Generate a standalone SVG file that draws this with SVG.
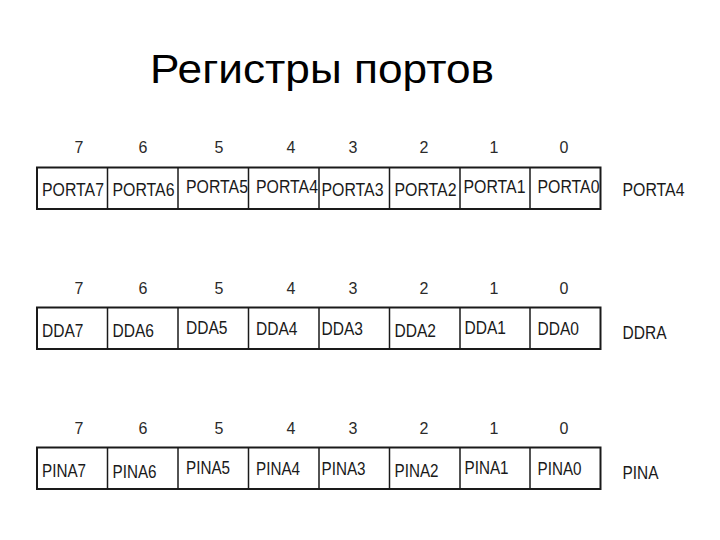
<svg xmlns="http://www.w3.org/2000/svg" width="720" height="540" viewBox="0 0 720 540">
<style>
.t{font-family:"Liberation Sans",Arial,sans-serif;fill:#1a1a1a}
.title{font-size:41px;fill:#000}
.bit{font-size:16px;text-anchor:middle;fill:#2a2a2a}
.cell{font-size:17.5px}
.box{fill:#fff;stroke:#1a1a1a;stroke-width:2}
.div{stroke:#1a1a1a;stroke-width:1.5}
</style>
<rect width="720" height="540" fill="#fff"/>
<text id="title" class="t title" x="150" y="83" textLength="344" lengthAdjust="spacingAndGlyphs">Регистры портов</text>

<g id="reg-porta">
  <g class="t bit">
    <text x="79" y="152.5">7</text><text x="143" y="152.5">6</text><text x="219" y="152.5">5</text><text x="291" y="152.5">4</text>
    <text x="353" y="152.5">3</text><text x="424" y="152.5">2</text><text x="494" y="152.5">1</text><text x="564" y="152.5">0</text>
  </g>
  <rect class="box" x="37" y="167.5" width="563.5" height="41.5"/>
  <g class="t cell">
    <text x="42" y="195.5" textLength="62" lengthAdjust="spacingAndGlyphs">PORTA7</text>
    <text x="112.5" y="195.5" textLength="62" lengthAdjust="spacingAndGlyphs">PORTA6</text>
    <text x="186" y="193" textLength="62" lengthAdjust="spacingAndGlyphs">PORTA5</text>
    <text x="256" y="193" textLength="62" lengthAdjust="spacingAndGlyphs">PORTA4</text>
    <text x="321.5" y="195.5" textLength="62" lengthAdjust="spacingAndGlyphs">PORTA3</text>
    <text x="394.5" y="195.5" textLength="62" lengthAdjust="spacingAndGlyphs">PORTA2</text>
    <text x="463.5" y="193" textLength="62" lengthAdjust="spacingAndGlyphs">PORTA1</text>
    <text x="537.5" y="193" textLength="62" lengthAdjust="spacingAndGlyphs">PORTA0</text>
    <text x="622.5" y="196" textLength="62" lengthAdjust="spacingAndGlyphs">PORTA4</text>
  </g>
  <g class="div">
    <line x1="107.5" y1="167.5" x2="107.5" y2="209"/><line x1="178" y1="167.5" x2="178" y2="209"/><line x1="248.5" y1="167.5" x2="248.5" y2="209"/>
    <line x1="319" y1="167.5" x2="319" y2="209"/><line x1="389.5" y1="167.5" x2="389.5" y2="209"/><line x1="460" y1="167.5" x2="460" y2="209"/><line x1="530" y1="167.5" x2="530" y2="209"/>
  </g>
</g>

<g id="reg-ddra">
  <g class="t bit">
    <text x="79" y="293.5">7</text><text x="143" y="293.5">6</text><text x="219" y="293.5">5</text><text x="291" y="293.5">4</text>
    <text x="353" y="293.5">3</text><text x="424" y="293.5">2</text><text x="494" y="293.5">1</text><text x="564" y="293.5">0</text>
  </g>
  <rect class="box" x="37" y="307.5" width="563.5" height="41.5"/>
  <g class="t cell">
    <text x="42" y="336.5" textLength="41.5" lengthAdjust="spacingAndGlyphs">DDA7</text>
    <text x="112.5" y="336.5" textLength="41.5" lengthAdjust="spacingAndGlyphs">DDA6</text>
    <text x="186" y="333.5" textLength="41.5" lengthAdjust="spacingAndGlyphs">DDA5</text>
    <text x="256" y="334.5" textLength="41.5" lengthAdjust="spacingAndGlyphs">DDA4</text>
    <text x="321.5" y="334.5" textLength="41.5" lengthAdjust="spacingAndGlyphs">DDA3</text>
    <text x="394.5" y="336.5" textLength="41.5" lengthAdjust="spacingAndGlyphs">DDA2</text>
    <text x="464.5" y="333.5" textLength="41.5" lengthAdjust="spacingAndGlyphs">DDA1</text>
    <text x="537.5" y="334.5" textLength="41.5" lengthAdjust="spacingAndGlyphs">DDA0</text>
    <text x="622.5" y="338.5" textLength="44" lengthAdjust="spacingAndGlyphs">DDRA</text>
  </g>
  <g class="div">
    <line x1="107.5" y1="307.5" x2="107.5" y2="349"/><line x1="178" y1="307.5" x2="178" y2="349"/><line x1="248.5" y1="307.5" x2="248.5" y2="349"/>
    <line x1="319" y1="307.5" x2="319" y2="349"/><line x1="389.5" y1="307.5" x2="389.5" y2="349"/><line x1="460" y1="307.5" x2="460" y2="349"/><line x1="530" y1="307.5" x2="530" y2="349"/>
  </g>
</g>

<g id="reg-pina">
  <g class="t bit">
    <text x="79" y="433.5">7</text><text x="143" y="433.5">6</text><text x="219" y="433.5">5</text><text x="291" y="433.5">4</text>
    <text x="353" y="433.5">3</text><text x="424" y="433.5">2</text><text x="494" y="433.5">1</text><text x="564" y="433.5">0</text>
  </g>
  <rect class="box" x="37" y="447.5" width="563.5" height="41.5"/>
  <g class="t cell">
    <text x="42" y="476.5" textLength="44" lengthAdjust="spacingAndGlyphs">PINA7</text>
    <text x="112.5" y="477.5" textLength="44" lengthAdjust="spacingAndGlyphs">PINA6</text>
    <text x="186" y="473.5" textLength="44" lengthAdjust="spacingAndGlyphs">PINA5</text>
    <text x="256" y="474.5" textLength="44" lengthAdjust="spacingAndGlyphs">PINA4</text>
    <text x="321.5" y="474.5" textLength="44" lengthAdjust="spacingAndGlyphs">PINA3</text>
    <text x="394.5" y="476.5" textLength="44" lengthAdjust="spacingAndGlyphs">PINA2</text>
    <text x="464.5" y="473.5" textLength="44" lengthAdjust="spacingAndGlyphs">PINA1</text>
    <text x="537.5" y="474.5" textLength="44" lengthAdjust="spacingAndGlyphs">PINA0</text>
    <text x="622.5" y="478.5" textLength="36" lengthAdjust="spacingAndGlyphs">PINA</text>
  </g>
  <g class="div">
    <line x1="107.5" y1="447.5" x2="107.5" y2="489"/><line x1="178" y1="447.5" x2="178" y2="489"/><line x1="248.5" y1="447.5" x2="248.5" y2="489"/>
    <line x1="319" y1="447.5" x2="319" y2="489"/><line x1="389.5" y1="447.5" x2="389.5" y2="489"/><line x1="460" y1="447.5" x2="460" y2="489"/><line x1="530" y1="447.5" x2="530" y2="489"/>
  </g>
</g>
</svg>
